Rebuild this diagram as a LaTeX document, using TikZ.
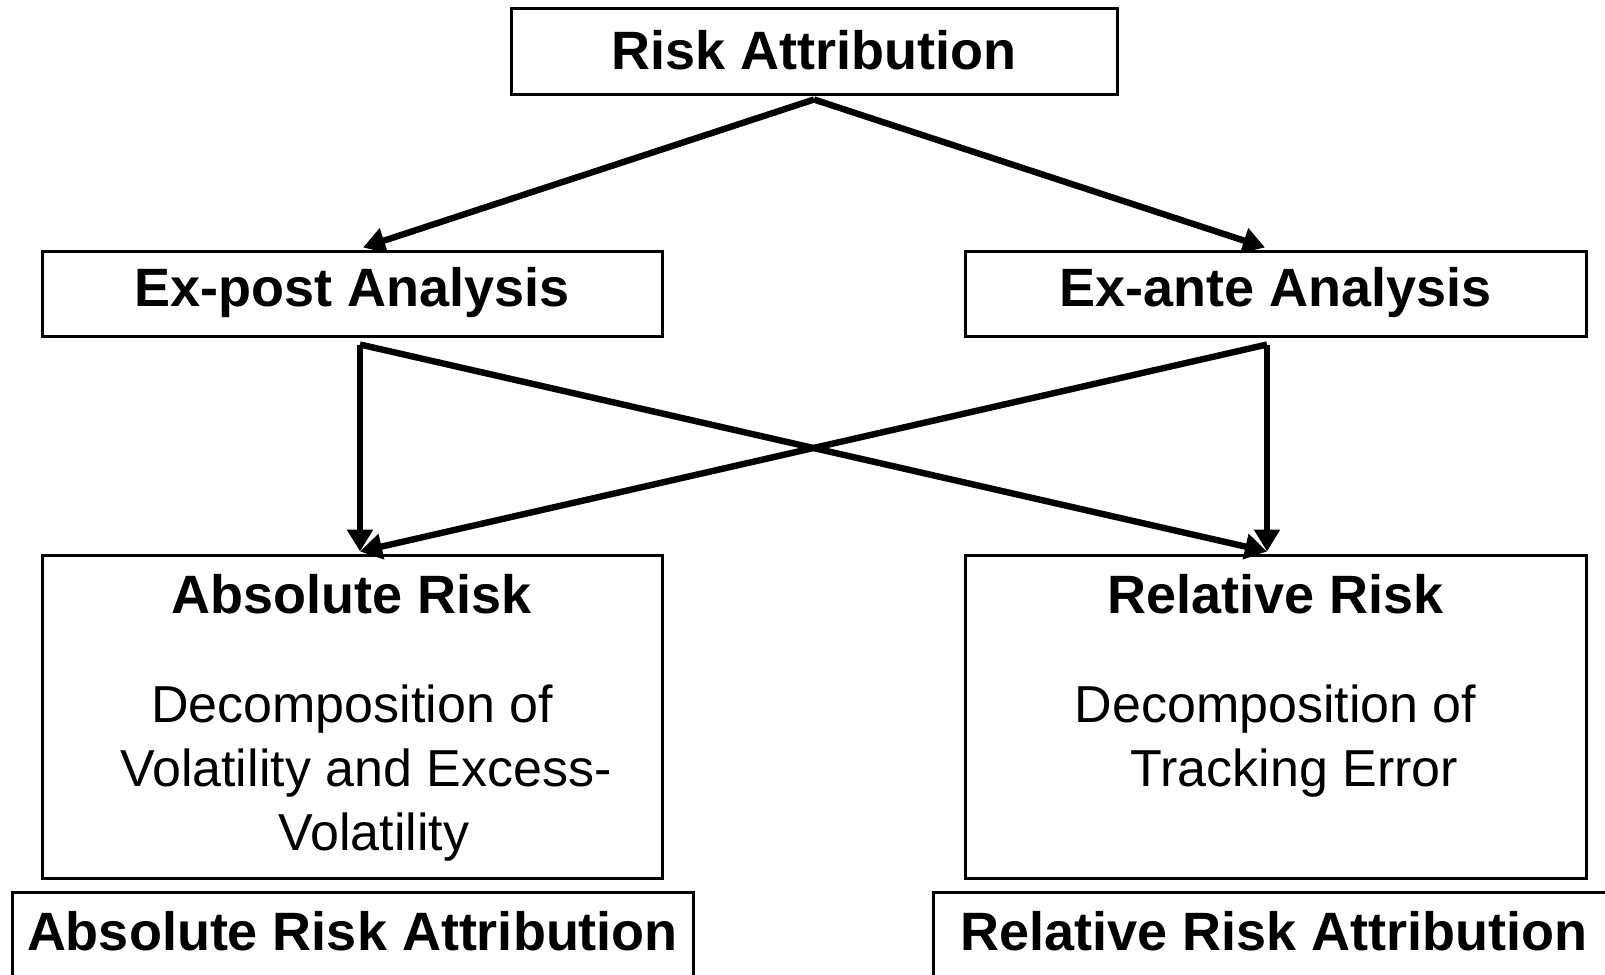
\documentclass[tikz,border=0pt]{standalone}
\usepackage{fontspec}
\setmainfont{Liberation Sans}
\usepackage{tikz}
\usetikzlibrary{arrows.meta,calc}

\tikzset{
  box/.style={draw, line width=1.5pt, inner sep=0pt},
  headtxt/.style={font=\fontsize{27}{32}\selectfont\bfseries, inner sep=0pt},
  bodytxt/.style={font=\fontsize{26}{32}\selectfont, align=center, inner sep=0pt},
  arr/.style={line width=3.2pt, -{Triangle[length=11pt,width=12.5pt]}},
}

\begin{document}
\begin{tikzpicture}[x=0.5pt, y=-0.5pt, line join=miter]
  \useasboundingbox (0,0) rectangle (1605,974);
  \clip (0,0) rectangle (1605,974);
  % top level
  \node[box, minimum width=303pt, minimum height=43pt] (risk) at (814,52) {};
  \node[headtxt] (risktxt) at (814,50) {Risk Attribution};
  % analysis boxes
  \node[box, minimum width=310pt, minimum height=42.5pt] (expost) at (352,293.5) {};
  \node[headtxt] (exposttxt) at (352,293) {Ex-post Analysis};
  \node[box, minimum width=310.5pt, minimum height=42.5pt] (exante) at (1275.5,293.5) {};
  \node[headtxt] (exantetxt) at (1275.5,293) {Ex-ante Analysis};
  % risk boxes
  \node[box, minimum width=310pt, minimum height=161.5pt] (abs) at (352,716.5) {};
  \node[headtxt] (abshead) at (352,594) {Absolute Risk};
  \node[bodytxt] (absbody) at (352,773) {Decomposition of\\\hspace*{14pt}Volatility and Excess-\\\hspace*{22pt}Volatility};
  \node[box, minimum width=310.5pt, minimum height=161.5pt] (rel) at (1275.5,716.5) {};
  \node[headtxt] (relhead) at (1275.5,594) {Relative Risk};
  \node[bodytxt] (relbody) at (1275.5,741) {Decomposition of\\\hspace*{19pt}Tracking Error};
  % attribution boxes
  \node[box, minimum width=340.5pt, minimum height=43pt] (absattr) at (352.5,935) {};
  \node[headtxt] (absattrtxt) at (352.5,931) {Absolute Risk Attribution};
  \node[box, minimum width=340.5pt, minimum height=43pt] (relattr) at (1274,935) {};
  \node[headtxt] (relattrtxt) at (1274,931) {Relative Risk Attribution};
  % arrows
  \coordinate (top) at ($(risk.south)+(0,3)$);
  \coordinate (pstart) at ($(expost.south)+(8,7)$);
  \coordinate (astart) at ($(exante.south)+(-8.5,7)$);
  \draw[arr] (top) -- ($(expost.north)+(11,-2)$);
  \draw[arr] (top) -- ($(exante.north)+(-10.5,-2)$);
  \draw[arr] (pstart) -- ($(abs.north)+(8,-2)$);
  \draw[arr] (pstart) -- ($(rel.north)+(-8.5,-2)$);
  \draw[arr] (astart) -- ($(rel.north)+(-8.5,-2)$);
  \draw[arr] (astart) -- ($(abs.north)+(8,-2)$);
\end{tikzpicture}
\end{document}
